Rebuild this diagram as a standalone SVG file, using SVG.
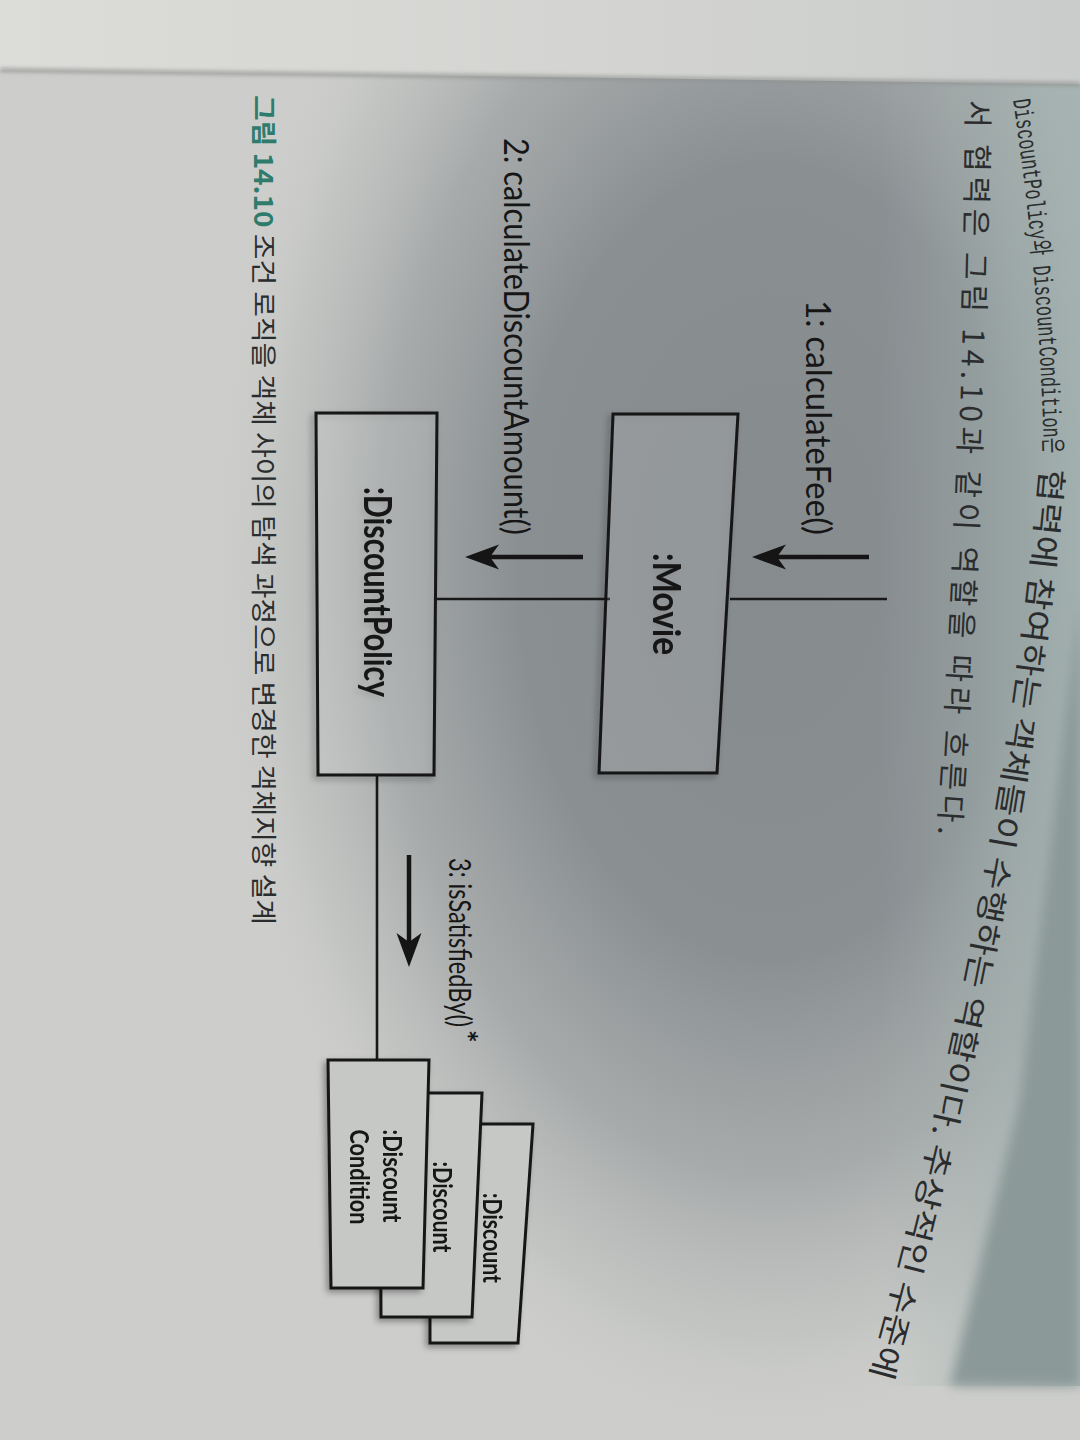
<svg xmlns="http://www.w3.org/2000/svg" width="1080" height="1440" viewBox="0 0 1080 1440">
<defs>
  <radialGradient id="darkBlob" cx="0.5" cy="0.5" r="0.5">
    <stop offset="0" stop-color="#868b8e" stop-opacity="1"/>
    <stop offset="0.45" stop-color="#8a8f92" stop-opacity="1"/>
    <stop offset="0.7" stop-color="#9ea2a3" stop-opacity="0.8"/>
    <stop offset="0.88" stop-color="#b6b9b8" stop-opacity="0.45"/>
    <stop offset="1" stop-color="#cdcecb" stop-opacity="0"/>
  </radialGradient>
  <linearGradient id="tealTint" x1="880" y1="0" x2="1080" y2="0" gradientUnits="userSpaceOnUse">
    <stop offset="0" stop-color="#9fb0ae" stop-opacity="0"/>
    <stop offset="1" stop-color="#a3b3b1" stop-opacity="0.85"/>
  </linearGradient>
  <linearGradient id="topStrip" x1="0" y1="0" x2="1" y2="0">
    <stop offset="0" stop-color="#dcdcd9"/>
    <stop offset="0.6" stop-color="#d3d4d1"/>
    <stop offset="1" stop-color="#c9cccb"/>
  </linearGradient>
  <filter id="soft" x="-10%" y="-10%" width="120%" height="120%">
    <feGaussianBlur stdDeviation="6"/>
  </filter>
  <filter id="edgeBlur" x="-5%" y="-100%" width="110%" height="300%">
    <feGaussianBlur stdDeviation="2"/>
  </filter>
  <filter id="shadow" x="-20%" y="-10%" width="140%" height="120%">
    <feDropShadow dx="-3" dy="3" stdDeviation="3" flood-color="#000" flood-opacity="0.35"/>
  </filter>
  <marker id="head" markerUnits="userSpaceOnUse" markerWidth="40" markerHeight="30" viewBox="-12 -15 40 30" refX="0" refY="0" orient="auto">
    <path d="M25,0 L-9,-12.5 L0,0 L-9,12.5 Z" fill="#151515"/>
  </marker>
  <path id="line1a" d="M1013,100 Q1040,280 1044,458"/>
  <path id="line1b" d="M1041,468 Q1003,900 867,1386"/>
  <path id="line2" d="M967,100 Q963,480 938,836"/>
</defs>
<style>
  .box { fill:#ffffff; fill-opacity:0.1; stroke:#161616; stroke-width:3; stroke-linejoin:miter; }
  .stack { fill:#c6c8c6; stroke:#161616; stroke-width:3; stroke-linejoin:miter; }
  .conn { stroke:#181818; stroke-width:2.6; fill:none; }
  .msg { stroke:#151515; stroke-width:4.5; fill:none; marker-end:url(#head); }
  .lbl { font-family:Lato,'Noto Sans','Liberation Sans',sans-serif; fill:#161616; }
  .name { font-family:Lato,'Noto Sans','Liberation Sans',sans-serif; font-weight:700; fill:#141414; }
  .ko { font-family:'Noto Sans CJK KR','Noto Sans',sans-serif; fill:#2a2c2d; }
  .mono { font-family:'Liberation Mono','Noto Sans CJK KR',monospace; fill:#2a2c2d; }
</style>

<!-- photographed page background -->
<g id="background">
  <rect x="0" y="0" width="1080" height="1440" fill="#cdcecb"/>
  <ellipse cx="770" cy="560" rx="560" ry="880" fill="url(#darkBlob)"/>
  <rect x="880" y="70" width="200" height="1316" fill="url(#tealTint)"/>
  <polygon points="1080,600 1020,1100 950,1386 1080,1386" fill="#8b9998" filter="url(#soft)"/>
  <polygon points="0,0 1080,0 1080,84 0,70" fill="url(#topStrip)"/>
  <path d="M0,70 L1080,84" stroke="#8f918f" stroke-width="3" fill="none" filter="url(#edgeBlur)"/>
</g>

<!-- page text -->
<g id="page-text">
  <text class="mono" font-size="26" textLength="355" lengthAdjust="spacingAndGlyphs"><textPath href="#line1a">DiscountPolicy와 DiscountCondition은</textPath></text>
  <text class="ko" font-size="31" textLength="925" lengthAdjust="spacingAndGlyphs"><textPath href="#line1b">협력에 참여하는 객체들이 수행하는 역할이다. 추상적인 수준에</textPath></text>
  <text class="ko" font-size="30" textLength="735"><textPath href="#line2">서 협력은 그림 14.10과 같이 역할을 따라 흐른다.</textPath></text>
  <text class="ko" font-size="26" textLength="830" lengthAdjust="spacingAndGlyphs" transform="translate(254,95) rotate(90)"><tspan fill="#2f7b6c" font-weight="700">그림 14.10</tspan> 조건 로직을 객체 사이의 탐색 과정으로 변경한 객체지향 설계</text>
</g>

<!-- connectors -->
<g id="connectors">
  <line class="conn" x1="437" y1="599" x2="610" y2="599"/>
  <line class="conn" x1="730" y1="599" x2="887" y2="599"/>
  <line class="conn" x1="377" y1="774" x2="377" y2="1060"/>
  <line class="msg" x1="869" y1="557" x2="777" y2="557"/>
  <line class="msg" x1="583" y1="557" x2="490" y2="557"/>
  <line class="msg" x1="409" y1="855" x2="409" y2="942"/>
  <text class="lbl" font-size="34" textLength="235" lengthAdjust="spacingAndGlyphs" transform="translate(806,300) rotate(90)">1: calculateFee()</text>
  <text class="lbl" font-size="34" textLength="397" lengthAdjust="spacingAndGlyphs" transform="translate(504,138) rotate(90)">2: calculateDiscountAmount()</text>
  <text class="lbl" font-size="30" textLength="169" lengthAdjust="spacingAndGlyphs" transform="translate(449,858) rotate(90)">3: isSatisfiedBy()</text>
  <text class="name" font-size="30" transform="translate(455,1030) rotate(90)">*</text>
</g>

<!-- nodes -->
<g id="node-movie" filter="url(#shadow)">
  <polygon class="box" points="613,414 738,414 717,773 599,773"/>
  <text class="name" font-size="38" text-anchor="middle" textLength="102" lengthAdjust="spacingAndGlyphs" transform="translate(653,604) rotate(90)">:Movie</text>
</g>

<g id="node-discountpolicy" filter="url(#shadow)">
  <polygon class="box" points="316,413 437,413 434,775 318,775"/>
  <text class="name" font-size="38" text-anchor="middle" textLength="210" lengthAdjust="spacingAndGlyphs" transform="translate(364,592) rotate(90)">:DiscountPolicy</text>
</g>

<g id="node-discount-back" filter="url(#shadow)">
  <polygon class="stack" points="430,1124 533,1124 518,1343 430,1343"/>
  <text class="name" font-size="27" text-anchor="middle" textLength="90" lengthAdjust="spacingAndGlyphs" transform="translate(483,1238) rotate(90)">:Discount</text>
</g>

<g id="node-discount-middle" filter="url(#shadow)">
  <polygon class="stack" points="380,1093 482,1093 472,1317 381,1317"/>
  <text class="name" font-size="27" text-anchor="middle" textLength="91" lengthAdjust="spacingAndGlyphs" transform="translate(433,1207) rotate(90)">:Discount</text>
</g>

<g id="node-discountcondition" filter="url(#shadow)">
  <polygon class="stack" points="328,1060 429,1060 423,1288 331,1288"/>
  <text class="name" font-size="27" text-anchor="middle" textLength="93" lengthAdjust="spacingAndGlyphs" transform="translate(383,1176) rotate(90)">:Discount</text>
  <text class="name" font-size="27" text-anchor="middle" textLength="95" lengthAdjust="spacingAndGlyphs" transform="translate(350,1177) rotate(90)">Condition</text>
</g>
</svg>
